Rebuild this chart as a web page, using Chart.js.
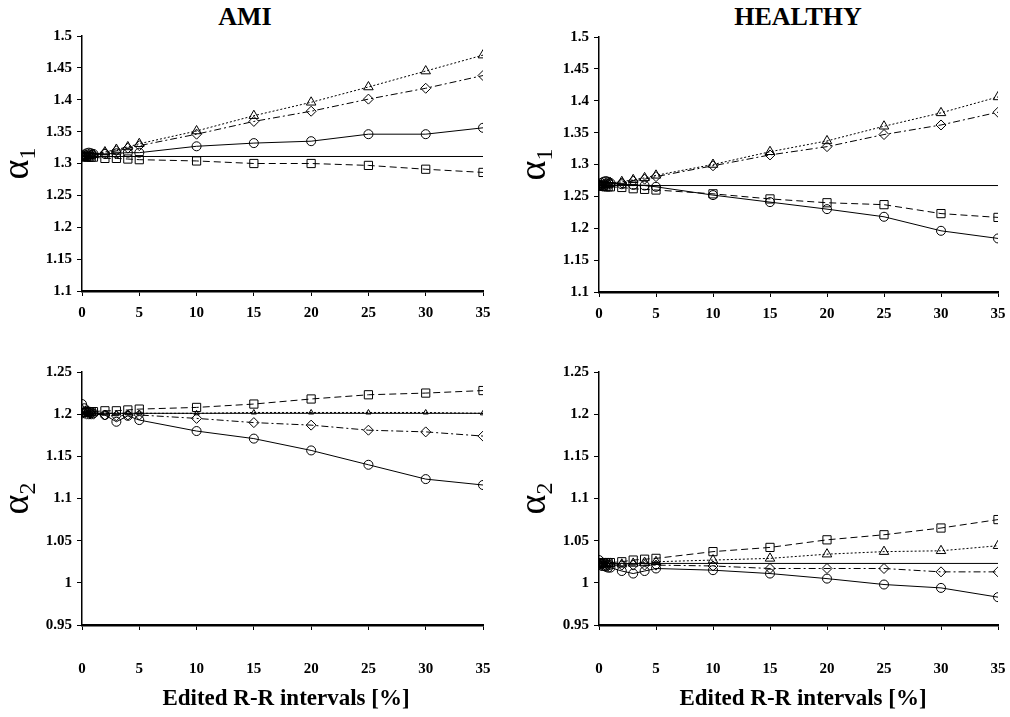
<!DOCTYPE html>
<html>
<head>
<meta charset="utf-8">
<script src="https://cdn.jsdelivr.net/npm/chart.js@4.4.0/dist/chart.umd.min.js"></script>
<style>
  body { margin: 0; background: #fff; width: 1010px; height: 717px; position: relative; overflow: hidden; }
  .panel { position: absolute; width: 505px; }
  .lbl { position: absolute; font-family: 'Times New Roman', 'Liberation Serif', serif; font-weight: bold; color: #000; white-space: nowrap; transform: translate(-50%, -50%); }
</style>
</head>
<body>
<div class="lbl" style="left:245px; top:17px; font-size:26px;">AMI</div>
<div class="lbl" style="left:798px; top:17px; font-size:26px;">HEALTHY</div>
<div class="panel" style="left:0; top:0; height:340px;"><canvas id="amiA1"></canvas></div>
<div class="panel" style="left:505px; top:0; height:340px;"><canvas id="healthyA1"></canvas></div>
<div class="panel" style="left:0; top:340px; height:377px;"><canvas id="amiA2"></canvas></div>
<div class="panel" style="left:505px; top:340px; height:377px;"><canvas id="healthyA2"></canvas></div>
<div class="lbl" style="left:286px; top:698px; font-size:23px;">Edited R-R intervals [%]</div>
<div class="lbl" style="left:803px; top:698px; font-size:23px;">Edited R-R intervals [%]</div>
<script>
// edited R-R intervals [%]
const xPct = [0, 0.2, 0.4, 0.6, 0.8, 1, 2, 3, 4, 5, 10, 15, 20, 25, 30, 35];

// AMI, alpha1
const amiA1Ref = 1.311;
const amiA1Circle = [1.312, 1.314, 1.316, 1.317, 1.316, 1.315, 1.315, 1.316, 1.317, 1.317, 1.327, 1.332, 1.335, 1.346, 1.346, 1.356];
const amiA1Square = [1.311, 1.311, 1.310, 1.310, 1.310, 1.310, 1.308, 1.308, 1.307, 1.306, 1.304, 1.300, 1.300, 1.297, 1.291, 1.286];
const amiA1Triangle = [1.311, 1.311, 1.312, 1.312, 1.313, 1.314, 1.318, 1.322, 1.326, 1.331, 1.351, 1.375, 1.396, 1.420, 1.445, 1.470];
const amiA1Diamond = [1.311, 1.311, 1.312, 1.312, 1.313, 1.313, 1.316, 1.320, 1.324, 1.328, 1.346, 1.366, 1.382, 1.401, 1.418, 1.438];

// HEALTHY, alpha1
const healthyA1Ref = 1.267;
const healthyA1Circle = [1.268, 1.271, 1.273, 1.274, 1.273, 1.271, 1.269, 1.268, 1.267, 1.265, 1.252, 1.241, 1.230, 1.218, 1.196, 1.184];
const healthyA1Square = [1.267, 1.266, 1.266, 1.265, 1.265, 1.265, 1.264, 1.262, 1.261, 1.260, 1.254, 1.246, 1.240, 1.237, 1.223, 1.217];
const healthyA1Triangle = [1.267, 1.268, 1.268, 1.269, 1.270, 1.271, 1.273, 1.276, 1.279, 1.283, 1.300, 1.320, 1.337, 1.360, 1.381, 1.406];
const healthyA1Diamond = [1.267, 1.267, 1.268, 1.268, 1.269, 1.269, 1.271, 1.274, 1.277, 1.281, 1.298, 1.315, 1.328, 1.347, 1.362, 1.382];

// AMI, alpha2
const amiA2Ref = 1.201;
const amiA2Circle = [1.212, 1.207, 1.204, 1.203, 1.202, 1.201, 1.199, 1.191, 1.198, 1.193, 1.180, 1.171, 1.157, 1.140, 1.123, 1.116];
const amiA2Square = [1.202, 1.202, 1.202, 1.203, 1.203, 1.203, 1.204, 1.204, 1.205, 1.206, 1.208, 1.212, 1.218, 1.223, 1.225, 1.228];
const amiA2Triangle = [1.201, 1.201, 1.201, 1.201, 1.201, 1.201, 1.201, 1.201, 1.201, 1.201, 1.201, 1.202, 1.202, 1.202, 1.202, 1.201];
const amiA2Diamond = [1.201, 1.201, 1.200, 1.200, 1.200, 1.200, 1.199, 1.198, 1.199, 1.199, 1.195, 1.190, 1.187, 1.181, 1.179, 1.174];

// HEALTHY, alpha2
const healthyA2Ref = 1.023;
const healthyA2Circle = [1.027, 1.022, 1.020, 1.019, 1.018, 1.018, 1.014, 1.011, 1.014, 1.017, 1.015, 1.011, 1.005, 0.998, 0.994, 0.983];
const healthyA2Square = [1.023, 1.023, 1.024, 1.024, 1.024, 1.024, 1.025, 1.027, 1.028, 1.029, 1.037, 1.042, 1.051, 1.057, 1.065, 1.075];
const healthyA2Triangle = [1.023, 1.023, 1.023, 1.023, 1.023, 1.023, 1.022, 1.023, 1.024, 1.025, 1.027, 1.029, 1.034, 1.037, 1.038, 1.044];
const healthyA2Diamond = [1.021, 1.020, 1.020, 1.020, 1.021, 1.021, 1.021, 1.021, 1.021, 1.021, 1.020, 1.017, 1.017, 1.017, 1.013, 1.013];

const xTicks = [0, 5, 10, 15, 20, 25, 30, 35];
const alpha1Ticks = [1.1, 1.15, 1.2, 1.25, 1.3, 1.35, 1.4, 1.45, 1.5];
const alpha2Ticks = [0.95, 1, 1.05, 1.1, 1.15, 1.2, 1.25];

const serif = "'Times New Roman', 'Liberation Serif', serif";

// rotated alpha with subscript, left of each plot
const alphaLabel = {
  id: "alphaLabel",
  afterDraw(chart, args, opts) {
    const { ctx, chartArea } = chart;
    ctx.save();
    ctx.translate(chartArea.left - 62, (chartArea.top + chartArea.bottom) / 2);
    ctx.rotate(-Math.PI / 2);
    ctx.fillStyle = "#000";
    ctx.textBaseline = "middle";
    ctx.textAlign = "left";
    ctx.font = "38px " + serif;
    const w = ctx.measureText("\u03b1").width;
    ctx.font = "24px " + serif;
    const sw = ctx.measureText(opts.sub).width;
    const x0 = -(w + sw) / 2;
    ctx.font = "38px " + serif;
    ctx.fillText("\u03b1", x0, -2);
    ctx.font = "24px " + serif;
    ctx.fillText(opts.sub, x0 + w, 9);
    ctx.restore();
  },
};

function pts(ys) {
  return ys.map((y, i) => ({ x: xPct[i], y: y }));
}

function series(ys, style, radius, dash) {
  return {
    data: pts(ys),
    showLine: true,
    borderColor: "#000",
    borderWidth: 1,
    borderDash: dash,
    pointStyle: style,
    pointRadius: radius,
    pointBorderColor: "#000",
    pointBackgroundColor: "rgba(0,0,0,0)",
    pointBorderWidth: 1,
  };
}

function makePanel(id, o) {
  new Chart(document.getElementById(id), {
    type: "scatter",
    data: {
      datasets: [
        {
          data: [{ x: 0, y: o.ref }, { x: 35, y: o.ref }],
          showLine: true,
          borderColor: "#000",
          borderWidth: 1,
          pointRadius: 0,
        },
        series(o.square, "rect", 5.8, [7, 4]),
        series(o.diamond, "rectRot", 5, [7, 3, 2, 3]),
        series(o.triangle, "triangle", o.triRadius, [2, 2]),
        series(o.circle, "circle", 4.5, []),
      ],
    },
    options: {
      responsive: true,
      maintainAspectRatio: false,
      animation: false,
      layout: { padding: { top: o.top, right: o.right, left: 0, bottom: 0 } },
      plugins: {
        legend: { display: false },
        tooltip: { enabled: false },
        alphaLabel: { sub: o.sub },
      },
      scales: {
        x: {
          type: "linear",
          min: 0,
          max: 35,
          afterBuildTicks: (s) => { s.ticks = xTicks.map((v) => ({ value: v })); },
          afterFit: (s) => {
            s.height = o.xHeight;
            s.paddingLeft = 0;
            s.paddingRight = 0;
          },
          grid: { drawOnChartArea: false, tickLength: 5, color: "#000", tickWidth: 1 },
          border: { color: "#000", width: 2.5 },
          ticks: {
            color: "#000",
            padding: o.xPad,
            maxRotation: 0,
            font: { family: serif, size: 15, weight: "bold" },
          },
        },
        y: {
          min: o.yTicks[0],
          max: o.yTicks[o.yTicks.length - 1],
          afterBuildTicks: (s) => { s.ticks = o.yTicks.map((v) => ({ value: v })); },
          afterFit: (s) => { s.width = o.yWidth; },
          grid: { drawOnChartArea: false, tickLength: 5, color: "#000", tickWidth: 1 },
          border: { color: "#000", width: 1.5 },
          ticks: {
            color: "#000",
            padding: 5,
            font: { family: serif, size: 15, weight: "bold" },
            callback: (v) => String(Number(v.toFixed(2))),
          },
        },
      },
    },
    plugins: [alphaLabel],
  });
}

makePanel("amiA1", {
  ref: amiA1Ref, circle: amiA1Circle, square: amiA1Square, triangle: amiA1Triangle, diamond: amiA1Diamond,
  yTicks: alpha1Ticks, sub: "1", top: 36, right: 22, yWidth: 82, xHeight: 49, xPad: 8, triRadius: 5.5,
});
makePanel("healthyA1", {
  ref: healthyA1Ref, circle: healthyA1Circle, square: healthyA1Square, triangle: healthyA1Triangle, diamond: healthyA1Diamond,
  yTicks: alpha1Ticks, sub: "1", top: 37, right: 12, yWidth: 94, xHeight: 48, xPad: 8, triRadius: 5.5,
});
makePanel("amiA2", {
  ref: amiA2Ref, circle: amiA2Circle, square: amiA2Square, triangle: amiA2Triangle, diamond: amiA2Diamond,
  yTicks: alpha2Ticks, sub: "2", top: 32, right: 22, yWidth: 82, xHeight: 92, xPad: 30, triRadius: 3,
});
makePanel("healthyA2", {
  ref: healthyA2Ref, circle: healthyA2Circle, square: healthyA2Square, triangle: healthyA2Triangle, diamond: healthyA2Diamond,
  yTicks: alpha2Ticks, sub: "2", top: 32, right: 12, yWidth: 94, xHeight: 92, xPad: 30, triRadius: 5.5,
});
</script>
</body>
</html>
